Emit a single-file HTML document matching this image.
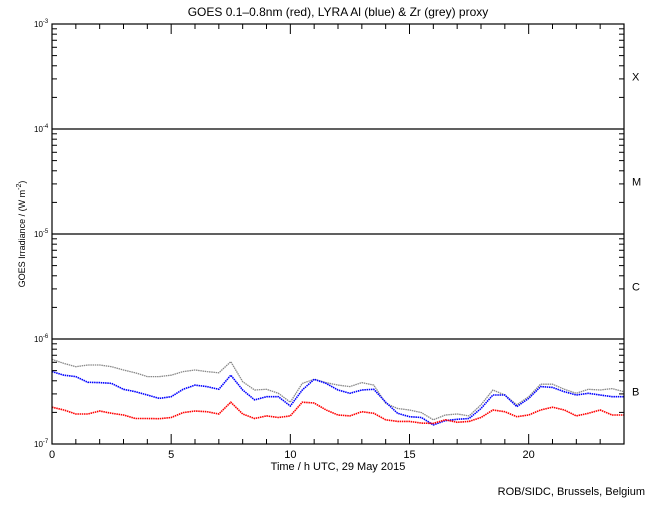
<!DOCTYPE html>
<html><head><meta charset="utf-8"><style>
body{margin:0;background:#fff;}
svg text{font-family:"Liberation Sans",sans-serif;fill:#000;}
</style></head><body>
<svg id="c" width="650" height="500" xmlns="http://www.w3.org/2000/svg">
<rect width="650" height="500" fill="#fff"/>
<text x="338" y="16" font-size="12" text-anchor="middle">GOES 0.1–0.8nm (red), LYRA Al (blue) &amp; Zr (grey) proxy</text>
<text x="338" y="470" font-size="11" text-anchor="middle">Time / h UTC, 29 May 2015</text>
<text x="645" y="495" font-size="11" text-anchor="end">ROB/SIDC, Brussels, Belgium</text>
<text transform="translate(25,234) rotate(-90)" font-size="9" text-anchor="middle">GOES Irradiance / (W m<tspan dy="-4" font-size="7">-2</tspan><tspan dy="4">)</tspan></text>
<g id="grid"></g><g id="series"></g><g id="axes"></g>
</svg>
<script>
const hours=[0,0.5,1,1.5,2,2.5,3,3.5,4,4.5,5,5.5,6,6.5,7,7.5,8,8.5,9,9.5,10,10.5,11,11.5,12,12.5,13,13.5,14,14.5,15,15.5,16,16.5,17,17.5,18,18.5,19,19.5,20,20.5,21,21.5,22,22.5,23,23.5,24];
// values in units of 1e-7 W m^-2
const goesRed=[2.24,2.11,1.93,1.93,2.06,1.96,1.89,1.75,1.75,1.74,1.79,1.99,2.06,2.03,1.93,2.5,1.93,1.75,1.85,1.79,1.85,2.5,2.46,2.11,1.89,1.85,2.03,1.96,1.70,1.64,1.64,1.58,1.57,1.70,1.61,1.64,1.79,2.11,2.03,1.82,1.89,2.11,2.24,2.11,1.85,1.96,2.11,1.89,1.89];
const lyraAl=[4.89,4.52,4.38,3.87,3.84,3.78,3.32,3.15,2.93,2.72,2.82,3.32,3.64,3.52,3.32,4.52,3.27,2.63,2.82,2.82,2.3,3.27,4.13,3.78,3.27,3.04,3.27,3.32,2.5,1.96,1.82,1.79,1.52,1.67,1.72,1.75,2.18,2.93,2.93,2.27,2.72,3.52,3.46,3.15,2.93,3.04,2.93,2.82,2.82];
const lyraZr=[6.4,5.86,5.45,5.66,5.66,5.45,5.07,4.77,4.38,4.38,4.52,4.89,5.07,4.89,4.77,6.08,3.92,3.27,3.32,3.04,2.5,3.78,4.13,3.84,3.64,3.52,3.84,3.64,2.44,2.18,2.11,1.99,1.70,1.89,1.93,1.85,2.36,3.27,2.93,2.36,2.82,3.71,3.71,3.32,3.04,3.32,3.27,3.37,3.15];
const xTickLabels=["0","5","10","15","20"];
const decadeExps=[-3,-4,-5,-6,-7];
const classLabels=["X","M","C","B"];
const NS="http://www.w3.org/2000/svg";
const L=52,R=624,T=24,B=444;
const xs=h=>L+(R-L)*h/24;
const ys=v=>T+(-3-Math.log10(v))*(B-T)/4;
function mk(tag,attrs,parent){const e=document.createElementNS(NS,tag);for(const k in attrs)e.setAttribute(k,attrs[k]);parent.appendChild(e);return e;}
const grid=document.getElementById('grid'),ser=document.getElementById('series'),ax=document.getElementById('axes');
[1e-4,1e-5,1e-6].forEach(v=>{const l=mk('line',{x1:L,x2:R,y1:ys(v),y2:ys(v),stroke:'#000','stroke-width':1.3},grid);

});
const fr=mk('rect',{x:L,y:T,width:R-L,height:B-T,fill:'none',stroke:'#000','stroke-width':1.2},ax);


for(let h=0;h<=24;h++){const len=h%5==0?10:5;const x=xs(h);
const t1=mk('line',{x1:x,x2:x,y1:B,y2:B-len,stroke:'#000'},ax);


const t2=mk('line',{x1:x,x2:x,y1:T,y2:T+len,stroke:'#000'},ax);

}
xTickLabels.forEach(s=>{const t=mk('text',{x:xs(+s),y:B+14,'font-size':11,'text-anchor':'middle'},ax);t.textContent=s;

});
for(let e=-7;e<-3;e++)for(let m=2;m<=9;m++){const y=ys(m*Math.pow(10,e));
const a=mk('line',{x1:L,x2:L+5,y1:y,y2:y,stroke:'#000'},ax);


const b=mk('line',{x1:R,x2:R-5,y1:y,y2:y,stroke:'#000'},ax);

}
decadeExps.forEach(e=>{const y=ys(Math.pow(10,e));const t=mk('text',{x:34,y:y+3,'font-size':8,'text-anchor':'start'},ax);
t.innerHTML='10<tspan dy="-4" font-size="6">'+e+'</tspan>';

});
classLabels.forEach((c,i)=>{const y=ys(Math.pow(10,-3.5-i));const t=mk('text',{x:632,y:y+4,'font-size':11},ax);t.textContent=c;

});
function line(vals,color,w,name){const pts=vals.map((v,i)=>xs(hours[i]).toFixed(1)+','+ys(v*1e-7).toFixed(1)).join(' ');
const p=mk('polyline',{points:pts,fill:'none',stroke:color,'stroke-width':w,'stroke-dasharray':'1.5 0.7'},ser);

}
line(lyraZr,'#888',1.3,'zr-proxy-series');
line(lyraAl,'#0000ff',1.6,'al-proxy-series');
line(goesRed,'#ff0000',1.6,'goes-series');
</script>
</body></html>
